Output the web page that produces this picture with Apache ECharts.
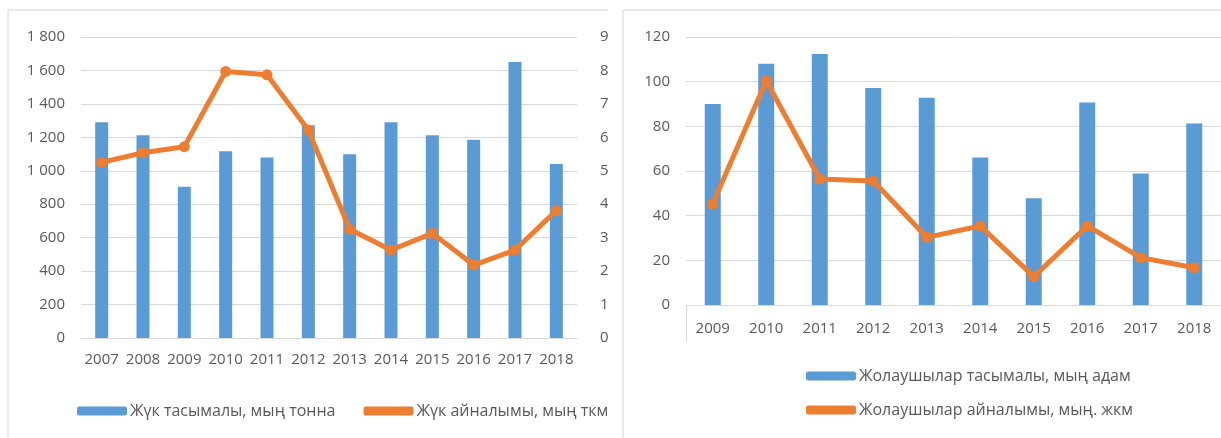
<!DOCTYPE html>
<html>
<head>
<meta charset="utf-8">
<script src="https://cdn.jsdelivr.net/npm/echarts@6/dist/echarts.min.js"></script>
<style>
  html, body { margin: 0; padding: 0; background: #fff; }
  #chart { width: 1221px; height: 438px; }
</style>
</head>
<body>
<div id="chart"></div>
<script>
// left chart: cargo
const cargoYears = ['2007', '2008', '2009', '2010', '2011', '2012', '2013', '2014', '2015', '2016', '2017', '2018']
const cargoVolume = [1290, 1213, 905, 1117, 1079, 1272, 1099, 1290, 1213, 1185, 1650, 1041]
const cargoTurnover = [5.25, 5.54, 5.72, 7.97, 7.87, 6.22, 3.25, 2.63, 3.13, 2.18, 2.63, 3.81]

// right chart: passengers
const passYears = ['2009', '2010', '2011', '2012', '2013', '2014', '2015', '2016', '2017', '2018']
const passVolume = [90, 108, 112.4, 97.2, 92.8, 66, 47.8, 90.7, 58.9, 81.3]
const passTurnover = [45.3, 100.4, 56.4, 55.5, 30.3, 35.4, 12.7, 35.4, 21.2, 16.7]

const names = {
  cargoBar: 'Жүк тасымалы, мың тонна',
  cargoLine: 'Жүк айналымы, мың ткм',
  passBar: 'Жолаушылар тасымалы, мың адам',
  passLine: 'Жолаушылар айналымы, мың. жкм'
}

const BLUE = '#5B9BD5'
const ORANGE = '#ED7D31'
const GRID = '#d9d9d9'
const TEXT = '#595959'
const FONT = '"Open Sans", sans-serif'

const chart = echarts.init(document.getElementById('chart'))

const labelStyle = { color: TEXT, fontSize: 15, fontFamily: FONT }
const legendText = { color: TEXT, fontSize: 16, fontFamily: FONT, padding: [0, 0, 0, -2] }

const option = {
  animation: false,
  textStyle: { fontFamily: FONT },
  grid: [
    { left: 81, top: 37, width: 496, height: 301 },
    { left: 686, top: 37, width: 540, height: 268 }
  ],
  xAxis: [
    {
      type: 'category', gridIndex: 0, data: cargoYears,
      axisLine: { lineStyle: { color: GRID } },
      axisTick: { show: false },
      axisLabel: { ...labelStyle, margin: 14, interval: 0 }
    },
    {
      type: 'category', gridIndex: 1, data: passYears,
      axisLine: { lineStyle: { color: GRID } },
      axisTick: { show: true, length: 36, lineStyle: { color: GRID }, interval: (i) => i === 0 },
      axisLabel: { ...labelStyle, margin: 16, interval: 0 }
    }
  ],
  yAxis: [
    {
      type: 'value', gridIndex: 0, min: 0, max: 1800, interval: 200,
      axisLine: { show: false }, axisTick: { show: false },
      splitLine: { lineStyle: { color: GRID } },
      axisLabel: {
        ...labelStyle, margin: 16,
        formatter: (v) => String(v).replace(/\B(?=(\d{3})+(?!\d))/g, ' ')
      }
    },
    {
      type: 'value', gridIndex: 0, min: 0, max: 9, interval: 1, position: 'right',
      axisLine: { show: false }, axisTick: { show: false },
      splitLine: { show: false },
      axisLabel: { ...labelStyle, margin: 23 }
    },
    {
      type: 'value', gridIndex: 1, min: 0, max: 120, interval: 20,
      axisLine: { show: false }, axisTick: { show: false },
      splitLine: { lineStyle: { color: GRID } },
      axisLabel: { ...labelStyle, margin: 16 }
    }
  ],
  legend: [
    {
      data: [
        { name: names.cargoBar },
        { name: names.cargoLine, icon: 'roundRect', itemStyle: { color: ORANGE } }
      ],
      left: 72, top: 398,
      itemWidth: 50, itemHeight: 9, itemGap: 28,
      textStyle: legendText
    },
    {
      data: [
        { name: names.passBar },
        { name: names.passLine, icon: 'roundRect', itemStyle: { color: ORANGE } }
      ],
      orient: 'vertical',
      left: 801, top: 363,
      itemWidth: 50, itemHeight: 9, itemGap: 18,
      textStyle: legendText
    }
  ],
  series: [
    {
      name: names.cargoBar, type: 'bar', xAxisIndex: 0, yAxisIndex: 0,
      data: cargoVolume, barWidth: 13, itemStyle: { color: BLUE }
    },
    {
      name: names.cargoLine, type: 'line', xAxisIndex: 0, yAxisIndex: 1,
      data: cargoTurnover, symbol: 'circle', symbolSize: 11,
      lineStyle: { color: ORANGE, width: 5 }, itemStyle: { color: ORANGE }
    },
    {
      name: names.passBar, type: 'bar', xAxisIndex: 1, yAxisIndex: 2,
      data: passVolume, barWidth: 16, itemStyle: { color: BLUE }
    },
    {
      name: names.passLine, type: 'line', xAxisIndex: 1, yAxisIndex: 2,
      data: passTurnover, symbol: 'circle', symbolSize: 11,
      lineStyle: { color: ORANGE, width: 5 }, itemStyle: { color: ORANGE }
    }
  ],
  graphic: [
    // gap between the two panels (clips right axis labels)
    { type: 'rect', z: 100, shape: { x: 608, y: 0, width: 14, height: 438 }, style: { fill: '#fff' } },
    // panel borders
    { type: 'line', z: 101, shape: { x1: 8, y1: 10, x2: 608, y2: 10 }, style: { stroke: '#e3e3e3', lineWidth: 1.5 } },
    { type: 'line', z: 101, shape: { x1: 8, y1: 10, x2: 8, y2: 438 }, style: { stroke: '#e3e3e3', lineWidth: 1.5 } },
    { type: 'line', z: 101, shape: { x1: 623, y1: 10, x2: 1221, y2: 10 }, style: { stroke: '#e3e3e3', lineWidth: 1.5 } },
    { type: 'line', z: 101, shape: { x1: 623, y1: 10, x2: 623, y2: 438 }, style: { stroke: '#e3e3e3', lineWidth: 1.5 } }
  ]
}

chart.setOption(option)
</script>
</body>
</html>
